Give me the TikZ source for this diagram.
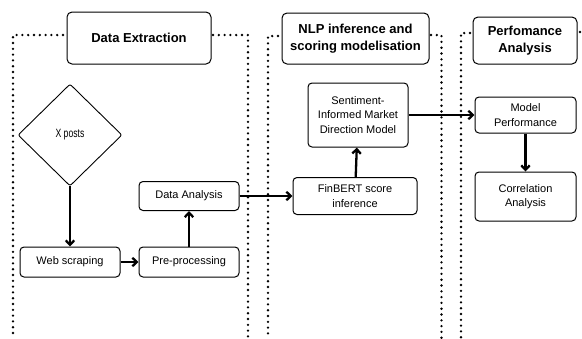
\documentclass[tikz,border=0pt]{standalone}
\usepackage{fontspec}
\setmainfont{Liberation Sans}
\newfontfamily\narrowfont[FakeStretch=0.72]{Liberation Sans}
\usetikzlibrary{arrows.meta,positioning,shapes.geometric}

\tikzset{
  box/.style={draw, rounded corners=4pt, line width=1pt, align=center,
    minimum width=100pt, minimum height=30pt, inner sep=2pt,
    font=\fontsize{11}{14.5}\selectfont},
  header/.style={draw, rounded corners=5pt, line width=1pt, align=center,
    inner sep=2pt, font=\fontsize{13}{16.5}\selectfont\bfseries},
  source/.style={draw, diamond, rounded corners=2pt, line width=0.9pt,
    minimum width=104pt, minimum height=102pt, inner sep=0pt,
    font=\narrowfont\fontsize{12}{13}\selectfont},
  flow/.style={-{Straight Barb[length=4.5pt,width=8.5pt]}, line width=2.3pt},
  fence/.style={line width=2.6pt, line cap=round, dash pattern=on 0pt off 5.8pt}
}

\begin{document}
\begin{tikzpicture}[x=1pt,y=-1pt,node distance=1cm,on grid]
\useasboundingbox (0,0) rectangle (582,338);

% phase headers
\node[header, minimum width=144pt, minimum height=52pt] (hdA) at (139,38) {Data Extraction};
\node[header, minimum width=147pt, minimum height=51pt] (hdB) at (355.5,38.5) {NLP inference and\\scoring modelisation};
\node[header, minimum width=104pt, minimum height=47pt] (hdC) at (525,40.5) {Perfomance\\Analysis};

% dotted phase frames
\draw[fence] (63,35) -| (13,338);
\draw[fence] (213,35) -| (248,338);
\draw[fence] (278,36) -| (268,338);
\draw[fence] (431,35) -| (441.5,338);
\draw[fence] (470,33) -| (461,338);
\draw[fence] (580,32) -- (586,32);

% data extraction
\node[source] (xposts) at (70,135) {X posts};
\node[box] (web) [below=127pt of xposts] {Web scraping};
\node[box] (pre) [right=119pt of web] {Pre-processing};
\node[box, minimum height=29pt] (ana) [above=66pt of pre] {Data Analysis};

% nlp inference
\node[box, minimum width=124pt, minimum height=37pt] (fin) at (355,196) {FinBERT score\\inference};
\node[box, minimum height=64pt] (sent) at (358,115) {Sentiment-\\Informed Market\\Direction Model};

% performance
\node[box, minimum width=101pt, minimum height=36pt] (perf) at (525.5,115) {Model\\Performance};
\node[box, minimum width=101pt, minimum height=49pt] (corr) [below=81.5pt of perf] {Correlation\\Analysis};

\draw[flow] (xposts) -- (web);
\draw[flow] (web) -- (pre);
\draw[flow] (pre) -- (ana);
\draw[flow] (ana) -- (fin);
\draw[flow] (fin) -- (sent);
\draw[flow] (sent) -- (perf);
\draw[flow] (perf) -- (corr);
\end{tikzpicture}
\end{document}
